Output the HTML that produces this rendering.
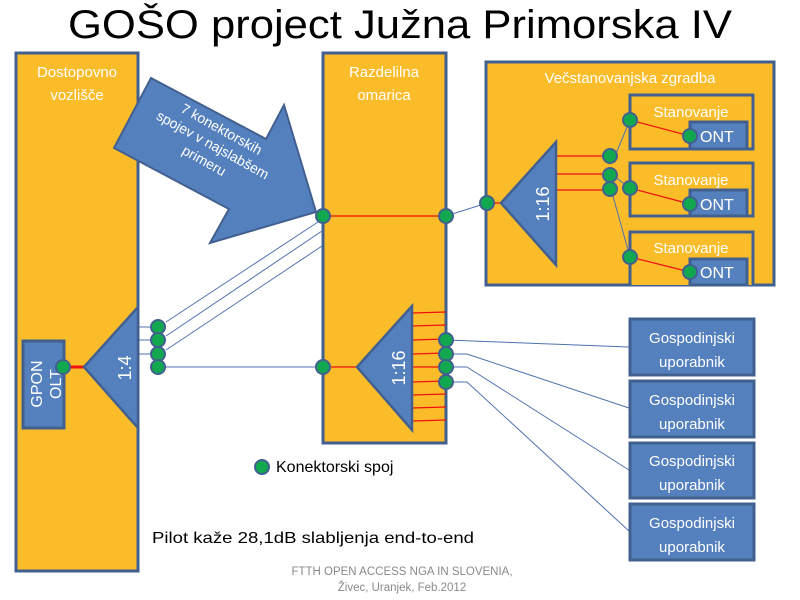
<!DOCTYPE html>
<html><head><meta charset="utf-8"><style>
html,body{margin:0;padding:0;background:#fff;}
svg{display:block;}
text{font-family:"Liberation Sans",sans-serif;}
</style></head><body>
<svg width="800" height="600" viewBox="0 0 800 600" xmlns="http://www.w3.org/2000/svg">
<text x="400" y="38" font-size="40" text-anchor="middle" textLength="664" lengthAdjust="spacingAndGlyphs" fill="#000">GOŠO project Južna Primorska IV</text>

<rect x="16" y="53" width="122" height="518" fill="#FBBC2A" stroke="#41608F" stroke-width="3"/>
<text x="77" y="77" font-size="15" fill="#fff" text-anchor="middle">Dostopovno</text>
<text x="77" y="100" font-size="15" fill="#fff" text-anchor="middle">vozlišče</text>

<rect x="323" y="53" width="123" height="390" fill="#FBBC2A" stroke="#41608F" stroke-width="3"/>
<text x="384" y="77" font-size="15" fill="#fff" text-anchor="middle">Razdelilna</text>
<text x="384" y="100" font-size="15" fill="#fff" text-anchor="middle">omarica</text>

<rect x="486" y="62" width="288" height="223" fill="#FBBC2A" stroke="#41608F" stroke-width="3"/>
<text x="630" y="83" font-size="15" fill="#fff" text-anchor="middle">Večstanovanjska zgradba</text>

<g stroke="#41608F" stroke-width="3" fill="#FBBC2A">
<rect x="630" y="95" width="123" height="54"/>
<rect x="630" y="163" width="123" height="53"/>
<path d="M630 285 V232 H753 V285"/>
</g>
<g font-size="15" fill="#fff" text-anchor="middle">
<text x="691" y="117">Stanovanje</text>
<text x="691" y="185">Stanovanje</text>
<text x="691" y="253">Stanovanje</text>
</g>
<g fill="#5580BE" stroke="#41608F" stroke-width="3">
<rect x="690" y="122" width="57" height="27"/>
<rect x="690" y="190" width="57" height="26"/>
<rect x="690" y="259" width="57" height="26"/>
</g>
<g font-size="16" fill="#fff">
<text x="700" y="142">ONT</text>
<text x="700" y="210">ONT</text>
<text x="700" y="278">ONT</text>
</g>

<rect x="23" y="341" width="41" height="87" fill="#5580BE" stroke="#41608F" stroke-width="3"/>
<text transform="translate(42,384) rotate(-90)" font-size="16" fill="#fff" text-anchor="middle">GPON</text>
<text transform="translate(61,384) rotate(-90)" font-size="16" fill="#fff" text-anchor="middle">OLT</text>

<g stroke="#4F72B0" stroke-width="1" fill="none">
<line x1="138" y1="327" x2="158" y2="327"/>
<line x1="138" y1="340" x2="158" y2="340"/>
<line x1="138" y1="354" x2="158" y2="354"/>
<line x1="158" y1="367" x2="323" y2="367"/>
<line x1="166" y1="322" x2="318" y2="222"/>
<line x1="166" y1="336" x2="322" y2="231"/>
<line x1="166" y1="350" x2="322" y2="246"/>
<line x1="446" y1="340" x2="629" y2="347"/>
<line x1="446" y1="354" x2="467" y2="354"/><line x1="467" y1="354" x2="629" y2="408"/>
<line x1="446" y1="367" x2="467" y2="367"/><line x1="467" y1="367" x2="629" y2="470"/>
<line x1="446" y1="382" x2="467" y2="382"/><line x1="467" y1="382" x2="629" y2="531"/>
<line x1="446" y1="216" x2="487" y2="203"/>
<line x1="615" y1="156" x2="630" y2="120"/>
<line x1="611" y1="189" x2="630" y2="257"/>
<line x1="611" y1="174" x2="630" y2="188"/>
</g>
<g stroke="#F01010" stroke-width="1.2">
<line x1="64" y1="367" x2="84" y2="367" stroke-width="3"/>
<line x1="323" y1="216" x2="446" y2="216"/>
<line x1="323" y1="367" x2="357" y2="367"/>
<line x1="412" y1="313" x2="446" y2="312"/>
<line x1="412" y1="326" x2="446" y2="325"/>
<line x1="412" y1="340" x2="446" y2="339"/>
<line x1="412" y1="354" x2="446" y2="353"/>
<line x1="412" y1="367" x2="446" y2="367"/>
<line x1="412" y1="382" x2="446" y2="381"/>
<line x1="412" y1="395" x2="446" y2="394"/>
<line x1="412" y1="408" x2="446" y2="407"/>
<line x1="412" y1="421" x2="446" y2="420"/>
<line x1="487" y1="203" x2="501" y2="203"/>
<line x1="556" y1="156" x2="611" y2="156"/>
<line x1="556" y1="174" x2="611" y2="174"/>
<line x1="556" y1="190" x2="611" y2="190"/>
<line x1="630" y1="120" x2="690" y2="136"/>
<line x1="630" y1="188" x2="690" y2="204"/>
<line x1="630" y1="257" x2="690" y2="272"/>
</g>

<g fill="#5580BE" stroke="#41608F" stroke-width="2.5">
<polygon points="84,367 138,307 138,428"/>
<polygon points="357,367 412,306 412,430"/>
<polygon points="501,203 556,142 556,265"/>
</g>
<text transform="translate(131,368) rotate(-90)" font-size="18" fill="#fff" text-anchor="middle">1:4</text>
<text transform="translate(405,368) rotate(-90)" font-size="18" fill="#fff" text-anchor="middle">1:16</text>
<text transform="translate(549,204) rotate(-90)" font-size="18" fill="#fff" text-anchor="middle">1:16</text>

<polygon points="151,78 266,139 284,105 316,212 210,243 229,209 114,148" fill="#5580BE" stroke="#41608F" stroke-width="2"/>
<g transform="translate(210,150) rotate(29)" font-size="14" fill="#fff" text-anchor="middle">
<text x="0" y="-19">7 konektorskih</text>
<text x="0" y="-1">spojev v najslabšem</text>
<text x="0" y="17">primeru</text>
</g>

<g fill="#5580BE" stroke="#41608F" stroke-width="3">
<rect x="630" y="319" width="124" height="56"/>
<rect x="630" y="381" width="124" height="56"/>
<rect x="630" y="443" width="124" height="55"/>
<rect x="630" y="504" width="124" height="56"/>
</g>
<g font-size="15" fill="#fff" text-anchor="middle">
<text x="692" y="343">Gospodinjski</text><text x="692" y="367">uporabnik</text>
<text x="692" y="405">Gospodinjski</text><text x="692" y="429">uporabnik</text>
<text x="692" y="466">Gospodinjski</text><text x="692" y="490">uporabnik</text>
<text x="692" y="528">Gospodinjski</text><text x="692" y="552">uporabnik</text>
</g>

<g fill="#12A84F" stroke="#41608F" stroke-width="2">
<circle cx="63" cy="367" r="7"/>
<circle cx="158" cy="327" r="7"/>
<circle cx="158" cy="340" r="7"/>
<circle cx="158" cy="354" r="7"/>
<circle cx="158" cy="367" r="7"/>
<circle cx="323" cy="216" r="7"/>
<circle cx="446" cy="216" r="7"/>
<circle cx="323" cy="367" r="7"/>
<circle cx="446" cy="340" r="7"/>
<circle cx="446" cy="354" r="7"/>
<circle cx="446" cy="367" r="7"/>
<circle cx="446" cy="382" r="7"/>
<circle cx="487" cy="203" r="7"/>
<circle cx="610" cy="156" r="7"/>
<circle cx="610" cy="175" r="7"/>
<circle cx="610" cy="189" r="7"/>
<circle cx="630" cy="120" r="7"/>
<circle cx="630" cy="188" r="7"/>
<circle cx="630" cy="257" r="7"/>
<circle cx="690" cy="136" r="7"/>
<circle cx="690" cy="204" r="7"/>
<circle cx="690" cy="272" r="7"/>
<circle cx="262" cy="467" r="7"/>
</g>

<text x="276" y="472" font-size="16" fill="#000">Konektorski spoj</text>
<text x="152" y="543" font-size="16" fill="#000" textLength="322" lengthAdjust="spacingAndGlyphs">Pilot kaže 28,1dB slabljenja end-to-end</text>
<text x="402" y="575" font-size="11.5" fill="#8A8A8A" text-anchor="middle">FTTH OPEN ACCESS NGA IN SLOVENIA,</text>
<text x="402" y="591" font-size="11.5" fill="#8A8A8A" text-anchor="middle">Živec, Uranjek, Feb.2012</text>
</svg>
</body></html>
